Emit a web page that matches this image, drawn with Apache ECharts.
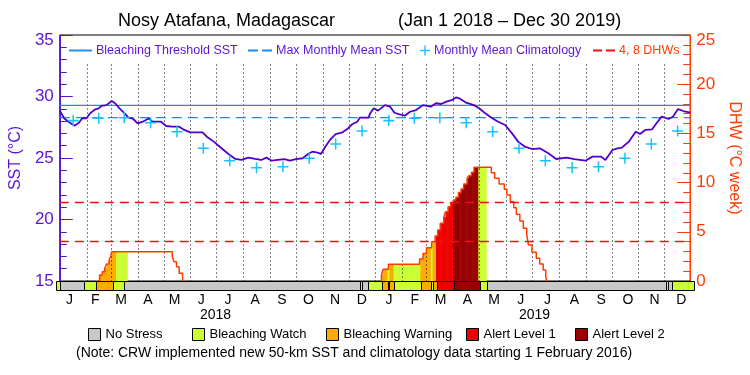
<!DOCTYPE html>
<html>
<head>
<meta charset="utf-8">
<script src="https://cdn.jsdelivr.net/npm/echarts@6/dist/echarts.min.js"></script>
<style>
html, body { margin: 0; background: #fff; }
#chart { width: 750px; height: 375px; }
</style>
</head>
<body>
<div id="chart"></div>
<script>
// all x values are days since 2018-01-01
var lastDay = 729;
var monthLetters = ['J', 'F', 'M', 'A', 'M', 'J', 'J', 'A', 'S', 'O', 'N', 'D'];
var yearLabels = ['2018', '2019'];

var climatology = [28.04, 28.23, 28.28, 27.87, 27.14, 25.79, 24.78, 24.21, 24.29, 24.98, 26.14, 27.2];
var mmm = 28.28;
var threshold = 29.28;
var dhwLevels = [4, 8];

var sst = [
  [0, 28.85], [5, 28.23], [10, 27.95], [17, 27.63], [22, 27.87], [26, 28.23], [31, 28.23],
  [35, 28.63], [41, 28.96], [45, 29.04], [48, 29.23], [54, 29.3], [60, 29.63], [64, 29.45],
  [69, 29.04], [75, 28.63], [79, 28.31], [85, 28.17], [90, 27.82], [96, 27.95], [103, 28.23],
  [107, 27.95], [117, 27.95], [123, 27.6], [130, 27.55], [138, 27.55], [144, 27.28], [151, 27.09],
  [165, 27.09], [170, 26.73], [178, 26.33], [187, 25.79], [195, 25.33], [203, 24.92], [210, 24.84],
  [218, 25.03], [226, 24.92], [233, 24.84], [239, 25.03], [245, 24.78], [252, 24.84], [260, 24.9],
  [266, 24.78], [273, 24.9], [281, 24.98], [287, 25.33], [292, 25.51], [298, 25.43], [302, 25.33],
  [307, 25.92], [313, 26.52], [319, 26.95], [327, 27.09], [332, 27.33], [338, 27.74], [344, 27.95],
  [347, 28.28], [357, 28.28], [359, 28.63], [363, 29.04], [368, 28.85], [376, 29.3], [382, 29.17],
  [387, 28.68], [393, 28.55], [399, 28.44], [405, 28.76], [412, 28.9], [420, 29.3], [429, 29.17],
  [435, 29.45], [441, 29.39], [447, 29.58], [454, 29.72], [458, 29.93], [462, 29.85], [469, 29.53],
  [479, 29.3], [485, 29.04], [492, 28.63], [500, 28.23], [507, 27.95], [515, 27.68], [523, 27.0],
  [530, 26.33], [538, 25.92], [546, 25.73], [555, 25.79], [565, 25.38], [574, 24.92], [586, 25.03],
  [595, 24.9], [608, 24.78], [616, 25.11], [626, 25.11], [631, 24.84], [639, 25.65], [645, 25.79],
  [650, 25.84], [658, 26.33], [666, 27.14], [671, 26.95], [677, 27.28], [685, 27.33], [690, 27.82],
  [696, 28.36], [704, 28.17], [709, 28.36], [715, 28.98], [721, 28.82], [729, 28.68]
];

var dhw2018 = [
  [46, 0], [46, 0.6], [49, 0.95], [52, 1.3], [54, 1.73], [57, 2.13], [59, 2.54], [60, 2.98],
  [130, 2.5], [132, 1.95], [135, 1.45], [138, 0.8], [142, 0]
];
var dhw2019 = [
  [372, 0], [372, 0.61], [374, 1.19], [380, 1.7], [416, 2.24], [420, 2.8], [424, 3.39], [430, 4.0],
  [434, 4.57], [437, 5.18], [440, 5.86], [444, 6.47], [446, 7.04], [449, 7.55], [452, 7.96],
  [455, 8.23], [458, 8.5], [461, 9.0], [464, 9.35], [467, 9.86], [471, 10.44], [473, 10.7],
  [476, 11.05], [479, 11.55], [499, 11.0], [503, 10.44], [508, 9.86], [514, 9.32], [517, 8.74],
  [521, 8.06], [525, 7.45], [528, 6.78], [532, 6.1], [536, 5.35], [540, 4.67], [542, 3.66],
  [546, 2.91], [551, 2.3], [555, 1.73], [559, 1.12], [562, 0.5], [563, 0]
];

var statusNames = ['No Stress', 'Bleaching Watch', 'Bleaching Warning', 'Alert Level 1', 'Alert Level 2'];
var statusColors = ['#c8c8c8', '#ccff33', '#ffaa00', '#ee0000', '#990000'];
var statusStart = [0, 4, 32, 46, 65, 78, 347, 350, 357, 372, 379, 381, 386, 417, 429, 431, 435, 455, 484, 493, 697, 699, 704];
var statusLevel = [1, 0, 1, 2, 1, 0, 1, 0, 1, 2, 1, 2, 1, 2, 1, 2, 3, 4, 1, 0, 1, 0, 1];

var purple = '#5a14d2';
var orange = '#ff3c00';

// calendar helpers
var monthStart = [], monthMid = [];
for (var y = 2018; y <= 2019; y++) {
  for (var m = 0; m < 12; m++) {
    var a = (Date.UTC(y, m, 1) - Date.UTC(2018, 0, 1)) / 864e5;
    var b = (Date.UTC(y, m + 1, 1) - Date.UTC(2018, 0, 1)) / 864e5;
    monthStart.push(a);
    monthMid.push((a + b) / 2);
  }
}
var yearMid = [lastDay / 4, lastDay * 3 / 4];

var climData = monthMid.map(function (d, i) { return [d, climatology[i % 12]]; });

var segs = statusStart.map(function (s, i) {
  return [s, i + 1 < statusStart.length ? statusStart[i + 1] : lastDay, statusLevel[i]];
});
function levelAt(d) {
  for (var i = segs.length - 1; i >= 0; i--) if (d >= segs[i][0]) return segs[i][2];
  return 0;
}
function dhwAt(d) {
  var ev = [dhw2018, dhw2019];
  for (var k = 0; k < ev.length; k++) {
    var e = ev[k];
    if (d >= e[0][0] && d < e[e.length - 1][0]) {
      var v = 0;
      for (var j = 0; j < e.length; j++) if (e[j][0] <= d) v = e[j][1];
      return v;
    }
  }
  return 0;
}
var fillData = [];
for (var d = 0; d < lastDay; d++) {
  var lv = levelAt(d), v = dhwAt(d);
  if (lv > 0 && v > 0) fillData.push([d, v, lv]);
}

function nearestIndex(arr, v) {
  var best = 0;
  for (var i = 1; i < arr.length; i++) if (Math.abs(arr[i] - v) < Math.abs(arr[best] - v)) best = i;
  return best;
}

var chart = echarts.init(document.getElementById('chart'));

var icons = {
  solid: 'path://M0,0H24V2H0Z',
  dashed: 'path://M0,0H10V2H0Z M14,0H24V2H14Z',
  plus: 'path://M4.3,0H5.7V4.3H10V5.7H5.7V10H4.3V5.7H0V4.3H4.3Z'
};

function topLegend(name, left, icon, w, h, color, textColor) {
  return {
    data: [{ name: name, icon: icon }], left: left, top: 44, padding: 0,
    itemWidth: w, itemHeight: h, itemGap: 0,
    itemStyle: { color: color, borderWidth: 0 },
    textStyle: { color: textColor, fontSize: 12.5, padding: [0, 0, 0, -1] },
    selectedMode: false
  };
}
function statusLegend(i, left) {
  return {
    data: [{ name: statusNames[i], icon: 'rect' }], left: left, top: 328, padding: 0,
    itemWidth: 12, itemHeight: 12,
    itemStyle: { color: statusColors[i], borderColor: '#000', borderWidth: 1 },
    textStyle: { color: '#000', fontSize: 13 },
    selectedMode: false
  };
}

var legends = [
  topLegend('Bleaching Threshold SST', 69, icons.solid, 23, 2, '#1e8cf0', purple),
  topLegend('Max Monthly Mean SST', 248, icons.dashed, 24, 2, '#1e8cf0', purple),
  topLegend('Monthly Mean Climatology', 420, icons.plus, 10, 10, '#19c3ff', purple),
  topLegend('4, 8 DHWs', 593, icons.dashed, 22, 2, '#ee1111', orange),
  statusLegend(0, 88), statusLegend(1, 192), statusLegend(2, 326), statusLegend(3, 466), statusLegend(4, 575)
];

var statusSeries = statusNames.map(function (name, lvl) {
  return {
    name: name, type: 'custom', xAxisIndex: 1, yAxisIndex: 2, z: 10,
    itemStyle: { color: statusColors[lvl] },
    data: segs.filter(function (s) { return s[2] === lvl; }).map(function (s) { return [s[0], s[1]]; }),
    renderItem: function (params, api) {
      var p0 = api.coord([api.value(0), 1]);
      var p1 = api.coord([api.value(1), 0]);
      var x0 = Math.round(p0[0]) + 0.5, x1 = Math.round(p1[0]) + 0.5;
      var y0 = Math.round(p0[1]) + 0.5, y1 = Math.round(p1[1]) + 0.5;
      return {
        type: 'rect',
        shape: { x: x0, y: y0, width: x1 - x0, height: y1 - y0 },
        style: { fill: statusColors[lvl], stroke: '#000', lineWidth: 1 }
      };
    }
  };
});

var option = {
  animation: false,
  textStyle: { fontFamily: 'Liberation Sans' },
  title: [
    { text: 'Nosy Atafana, Madagascar', left: 118, top: 12, padding: 0,
      textStyle: { fontSize: 18, fontWeight: 'normal', color: '#000' } },
    { text: '(Jan 1 2018 \u2013 Dec 30 2019)', left: 398, top: 12, padding: 0,
      textStyle: { fontSize: 18, fontWeight: 'normal', color: '#000' } },
    { text: '(Note: CRW implemented new 50-km SST and climatology data starting 1 February 2016)',
      left: 76, top: 346, padding: 0,
      textStyle: { fontSize: 14, fontWeight: 'normal', color: '#000' } }
  ],
  legend: legends,
  grid: [
    { left: 56, top: 35, width: 638, height: 246, show: true, borderColor: '#000', borderWidth: 1, backgroundColor: 'transparent' },
    { left: 56, top: 281, width: 638, height: 9 }
  ],
  xAxis: [
    { gridIndex: 0, type: 'value', min: 0, max: lastDay, position: 'bottom',
      axisLine: { show: false }, axisTick: { show: false }, axisLabel: { show: false }, splitLine: { show: false } },
    { gridIndex: 1, type: 'value', min: 0, max: lastDay, position: 'bottom',
      axisLine: { show: false }, axisTick: { show: false }, splitLine: { show: false },
      axisLabel: { customValues: monthMid, margin: 3, fontSize: 14, color: '#000',
        formatter: function (v) { return monthLetters[nearestIndex(monthMid, v) % 12]; } } },
    { gridIndex: 1, type: 'value', min: 0, max: lastDay, position: 'bottom', offset: 15,
      axisLine: { show: false }, axisTick: { show: false }, splitLine: { show: false },
      axisLabel: { customValues: yearMid, margin: 3, fontSize: 14, color: '#000',
        formatter: function (v) { return yearLabels[nearestIndex(yearMid, v)]; } } }
  ],
  yAxis: [
    { gridIndex: 0, type: 'value', min: 15, max: 35, interval: 5, position: 'left',
      name: 'SST (\u00b0C)', nameLocation: 'middle', nameGap: 31,
      nameTextStyle: { color: purple, fontSize: 16 },
      axisLine: { show: true, lineStyle: { color: purple, width: 1 } },
      axisTick: { show: true, inside: true, length: 13, lineStyle: { color: purple } },
      minorTick: { show: true, splitNumber: 5, length: 7, lineStyle: { color: purple } },
      splitLine: { show: false },
      axisLabel: { color: purple, fontSize: 17, margin: 6,
        formatter: function (v) { return v === 35 ? '{t|35}' : String(v); },
        rich: { t: { color: purple, fontSize: 17, padding: [10, 0, 0, 0] } } } },
    { gridIndex: 0, type: 'value', min: 0, max: 25, interval: 5, position: 'right',
      name: 'DHW (\u00b0C week)', nameLocation: 'middle', nameGap: 34, nameRotate: -90,
      nameTextStyle: { color: orange, fontSize: 16 },
      axisLine: { show: true, lineStyle: { color: orange, width: 1 } },
      axisTick: { show: true, inside: true, length: 13, lineStyle: { color: orange } },
      minorTick: { show: true, splitNumber: 5, length: 7, lineStyle: { color: orange } },
      splitLine: { show: false },
      axisLabel: { color: orange, fontSize: 17, margin: 6,
        formatter: function (v) { return v === 25 ? '{t|25}' : String(v); },
        rich: { t: { color: orange, fontSize: 17, padding: [10, 0, 0, 0] } } } },
    { gridIndex: 1, type: 'value', min: 0, max: 1, show: false }
  ],
  series: [
    { name: 'fill', type: 'custom', xAxisIndex: 0, yAxisIndex: 1, z: 1, data: fillData,
      renderItem: function (params, api) {
        var p0 = api.coord([api.value(0), api.value(1)]);
        var p1 = api.coord([api.value(0) + 1, 0]);
        return { type: 'rect', shape: { x: p0[0], y: p0[1], width: p1[0] - p0[0] + 0.6, height: p1[1] - p0[1] },
          style: { fill: statusColors[api.value(2)] } };
      } },
    { name: 'months', type: 'custom', xAxisIndex: 0, yAxisIndex: 0, z: 2,
      data: monthStart.slice(1).map(function (d) { return [d, 15]; }),
      renderItem: function (params, api) {
        var top = api.coord([api.value(0), 32.6]);
        var bot = api.coord([api.value(0), 15]);
        var x = Math.round(top[0]) + 0.5;
        return { type: 'line', shape: { x1: x, y1: top[1], x2: x, y2: bot[1] },
          style: { stroke: '#000', lineWidth: 1, lineDash: [1, 3] } };
      } },
    { name: 'Bleaching Threshold SST', type: 'line', xAxisIndex: 0, yAxisIndex: 0, z: 3, symbol: 'none',
      data: [[0, threshold], [lastDay, threshold]],
      itemStyle: { color: '#1e8cf0' }, lineStyle: { color: '#1e8cf0', width: 1.3 } },
    { name: 'Max Monthly Mean SST', type: 'line', xAxisIndex: 0, yAxisIndex: 0, z: 3, symbol: 'none',
      data: [[0, mmm], [lastDay, mmm]],
      itemStyle: { color: '#1e8cf0' }, lineStyle: { color: '#1e8cf0', width: 1.3, type: [10, 6] } },
    { name: '4, 8 DHWs', type: 'line', xAxisIndex: 0, yAxisIndex: 1, z: 3, symbol: 'none', data: [],
      itemStyle: { color: '#ee1111' },
      markLine: { silent: true, symbol: 'none', label: { show: false },
        lineStyle: { color: '#ee1111', width: 1.3, type: [9, 6] },
        data: dhwLevels.map(function (v) { return { yAxis: v }; }) } },
    { name: 'DHW 2018', type: 'line', xAxisIndex: 0, yAxisIndex: 1, z: 4, symbol: 'none', step: 'end',
      data: dhw2018, lineStyle: { color: orange, width: 1.5 } },
    { name: 'DHW 2019', type: 'line', xAxisIndex: 0, yAxisIndex: 1, z: 4, symbol: 'none', step: 'end',
      data: dhw2019, lineStyle: { color: orange, width: 1.5 } },
    { name: 'SST', type: 'line', xAxisIndex: 0, yAxisIndex: 0, z: 5, symbol: 'none',
      data: sst, lineStyle: { color: '#5000c8', width: 1.8 } },
    { name: 'Monthly Mean Climatology', type: 'scatter', xAxisIndex: 0, yAxisIndex: 0, z: 6,
      symbol: icons.plus, symbolSize: 11, data: climData,
      itemStyle: { color: '#19c3ff', opacity: 1 } }
  ].concat(statusSeries)
};

chart.setOption(option);
</script>
</body>
</html>
